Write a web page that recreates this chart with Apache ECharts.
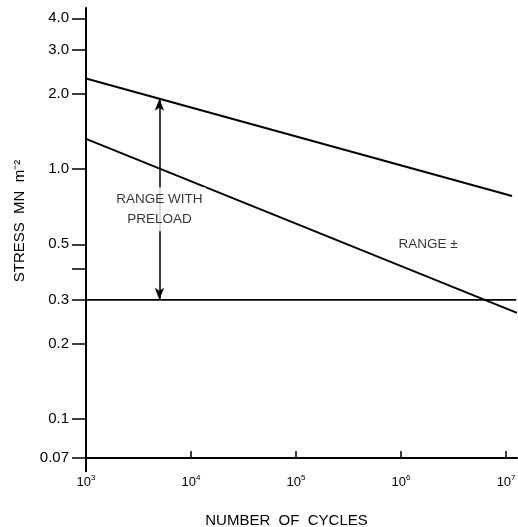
<!DOCTYPE html>
<html>
<head>
<meta charset="utf-8">
<script src="https://cdn.jsdelivr.net/npm/echarts@6/dist/echarts.min.js"></script>
<style>
  html,body{margin:0;padding:0;background:#fff;}
  #chart{width:518px;height:527px;}
</style>
</head>
<body>
<div id="chart"></div>
<script>
"use strict";

// S-N lines (cycles, stress MN m^-2)
var upperLine = [[1e3, 2.3], [1.14e7, 0.78]];
var rangeLine = [[1e3, 1.32], [1.27e7, 0.266]];
var preloadLine = [[1e3, 0.3], [1.25e7, 0.3]];
var arrowEnds = [[5e3, 1.91], [5e3, 0.3]];

var yTicks = [0.07, 0.1, 0.2, 0.3, 0.4, 0.5, 1.0, 2.0, 3.0, 4.0];
var yLabels = {0.07: '0.07', 0.1: '0.1', 0.2: '0.2', 0.3: '0.3', 0.5: '0.5', 1: '1.0', 2: '2.0', 3: '3.0', 4: '4.0'};
var xTicks = [1e3, 1e4, 1e5, 1e6, 1e7];

var notes = [
  {pos: [5e3, 0.69], text: 'RANGE WITH\nPRELOAD'},
  {pos: [1.81e6, 0.5], text: 'RANGE ±'}
];

var FONT = '"Liberation Sans", Arial, sans-serif';
var INK = '#000';

var chart = echarts.init(document.getElementById('chart'));

chart.setOption({
  animation: false,
  backgroundColor: '#fff',
  grid: {left: 86, right: 1, top: 8, bottom: 69, outerBoundsMode: 'none'},
  textStyle: {fontFamily: FONT, color: INK},
  xAxis: [{
    type: 'log', logBase: 10, min: 1e3, max: 1.27e7,
    name: 'NUMBER  OF  CYCLES', nameLocation: 'middle', nameGap: 55,
    nameTextStyle: {fontSize: 15, color: INK, fontFamily: FONT, padding: [0, 30, 0, 0]},
    axisLine: {lineStyle: {color: INK, width: 2}},
    axisTick: {inside: true, length: 7, lineStyle: {color: INK, width: 1.5}, customValues: xTicks.slice(1)},
    axisLabel: {
      customValues: xTicks, margin: 16, color: INK, fontFamily: FONT,
      formatter: function (v) { return '{b|10}{s|' + Math.round(Math.log10(v)) + '}'; },
      rich: {
        b: {fontSize: 13, color: INK, fontFamily: FONT, lineHeight: 16},
        s: {fontSize: 8, color: INK, fontFamily: FONT, verticalAlign: 'top', lineHeight: 16, padding: [0, 0, 6, 0]}
      }
    },
    splitLine: {show: false}
  }, {
    // just the little downward tick under the origin
    type: 'log', logBase: 10, min: 1e3, max: 1.27e7, position: 'bottom',
    axisLine: {show: false},
    axisTick: {length: 14, lineStyle: {color: INK, width: 2}, customValues: [1e3]},
    axisLabel: {show: false},
    splitLine: {show: false}
  }],
  yAxis: {
    type: 'log', logBase: 10, min: 0.07, max: 4.4,
    name: 'STRESS  MN  m⁻²', nameLocation: 'middle', nameGap: 59, nameRotate: 90,
    nameTextStyle: {fontSize: 15, color: INK, fontFamily: FONT, padding: [0, 0, 0, 24]},
    axisLine: {lineStyle: {color: INK, width: 2}},
    axisTick: {length: 14, lineStyle: {color: INK, width: 1.5}, customValues: yTicks},
    axisLabel: {
      customValues: yTicks, margin: 17, fontSize: 15, color: INK, fontFamily: FONT,
      formatter: function (v) {
        var k = Object.keys(yLabels).find(function (t) { return Math.abs(+t - v) < 1e-6; });
        return k !== undefined ? yLabels[k] : '';
      }
    },
    splitLine: {show: false}
  },
  series: [{
    type: 'line', data: upperLine, symbol: 'none',
    lineStyle: {color: INK, width: 2},
    markLine: {
      silent: true, symbol: ['arrow', 'arrow'], symbolSize: [7, 12],
      lineStyle: {color: INK, width: 1.5, type: 'solid'},
      label: {show: false},
      data: [[{coord: arrowEnds[0]}, {coord: arrowEnds[1]}]]
    }
  }, {
    type: 'line', data: rangeLine, symbol: 'none',
    lineStyle: {color: INK, width: 2}
  }, {
    type: 'line', data: preloadLine, symbol: 'none',
    lineStyle: {color: INK, width: 1.6}
  }, {
    type: 'scatter', z: 10, symbolSize: 0,
    data: notes.map(function (n) { return {value: n.pos, name: n.text}; }),
    label: {
      show: true, position: 'inside', formatter: '{b}',
      fontSize: 13.5, lineHeight: 20, color: INK, fontFamily: FONT,
      backgroundColor: '#fff', padding: [2, 3]
    }
  }]
});
</script>
</body>
</html>
